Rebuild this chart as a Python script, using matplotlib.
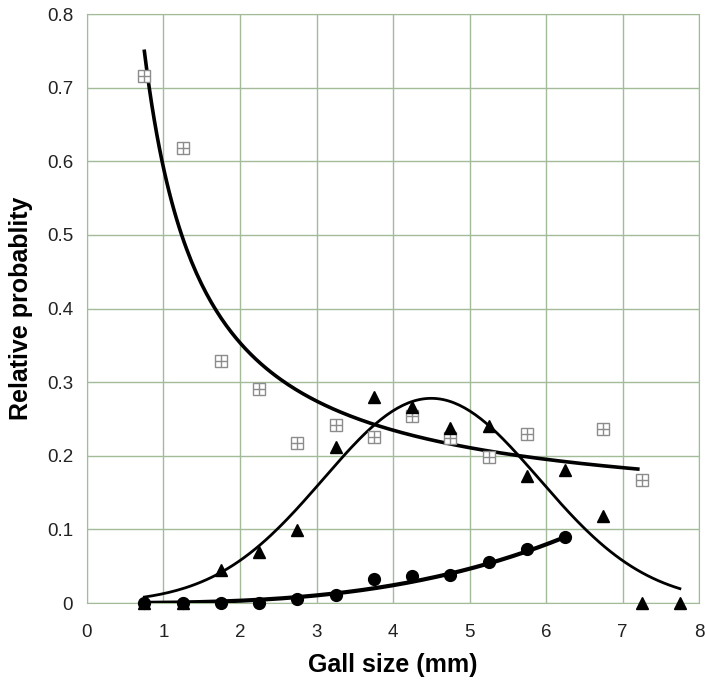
import numpy as np
import matplotlib.pyplot as plt

plt.rcParams['font.family'] = ['Liberation Sans', 'DejaVu Sans']

# Gall size classes (mm)
sq_x = [0.75, 1.25, 1.75, 2.25, 2.75, 3.25, 3.75, 4.25, 4.75, 5.25, 5.75, 6.75, 7.25]
sq_y = [0.716, 0.618, 0.329, 0.291, 0.217, 0.242, 0.226, 0.254, 0.224, 0.198, 0.230, 0.236, 0.167]

tri_x = [0.75, 1.25, 1.75, 2.25, 2.75, 3.25, 3.75, 4.25, 4.75, 5.25, 5.75, 6.25, 6.75, 7.25, 7.75]
tri_y = [0.0, 0.0, 0.045, 0.069, 0.099, 0.212, 0.280, 0.266, 0.238, 0.240, 0.173, 0.181, 0.118, 0.0, 0.0]

dot_x = [0.75, 1.25, 1.75, 2.25, 2.75, 3.25, 3.75, 4.25, 4.75, 5.25, 5.75, 6.25]
dot_y = [0.0, 0.0, 0.0, 0.0, 0.005, 0.011, 0.032, 0.037, 0.038, 0.056, 0.074, 0.090]

# fitted trend curves (parameters)
hyp_a, hyp_b = 0.116, 0.475            # y = a + b/x
gau_amp, gau_mu, gau_sd = 0.278, 4.5, 1.41
pow_a, pow_p = 0.00041, 2.94           # y = a * x^p

green = '#a3bb99'

fig = plt.figure(figsize=(7.05, 6.8), dpi=100)
ax = fig.add_axes([0.1234, 0.1132, 0.8681, 0.8662])

# curves
xs = np.linspace(0.75, 7.2, 200)
ax.plot(xs, hyp_a + hyp_b / xs, color='black', lw=2.6, zorder=3)
xt = np.linspace(0.75, 7.75, 200)
ax.plot(xt, gau_amp * np.exp(-(xt - gau_mu) ** 2 / (2 * gau_sd ** 2)), color='black', lw=2.0, zorder=3)
xd = np.linspace(0.75, 6.25, 200)
ax.plot(xd, pow_a * xd ** pow_p, color='black', lw=3.0, zorder=3)

# points
ax.plot(sq_x, sq_y, ls='none', marker='s', ms=8, mfc='white', mec='#8c8c8c', mew=1.0, zorder=4)
ax.plot(sq_x, sq_y, ls='none', marker='+', ms=8, mec='#8c8c8c', mew=1.0, zorder=5)
ax.plot(dot_x, dot_y, ls='none', marker='o', ms=8.5, color='black', zorder=4, clip_on=False)
ax.plot(tri_x, tri_y, ls='none', marker='^', ms=8.5, color='black', zorder=5, clip_on=False)

ax.set_xlim(0, 8)
ax.set_ylim(0, 0.8)
ax.set_xticks(range(0, 9))
ax.set_yticks(np.arange(0, 0.81, 0.1))
ax.set_yticklabels(['0', '0.1', '0.2', '0.3', '0.4', '0.5', '0.6', '0.7', '0.8'])
ax.tick_params(length=0, labelsize=13.5, colors='#222222')
ax.tick_params(axis='x', pad=15)
ax.tick_params(axis='y', pad=10)
ax.grid(True, color=green, lw=1.0)
ax.set_axisbelow(True)
for s in ax.spines.values():
    s.set_color(green)

ax.set_xlabel('Gall size (mm)', fontsize=18, fontweight='bold', labelpad=9)
ax.set_ylabel('Relative probablity', fontsize=18, fontweight='bold', labelpad=10)

fig.savefig('out.png', dpi=100)
